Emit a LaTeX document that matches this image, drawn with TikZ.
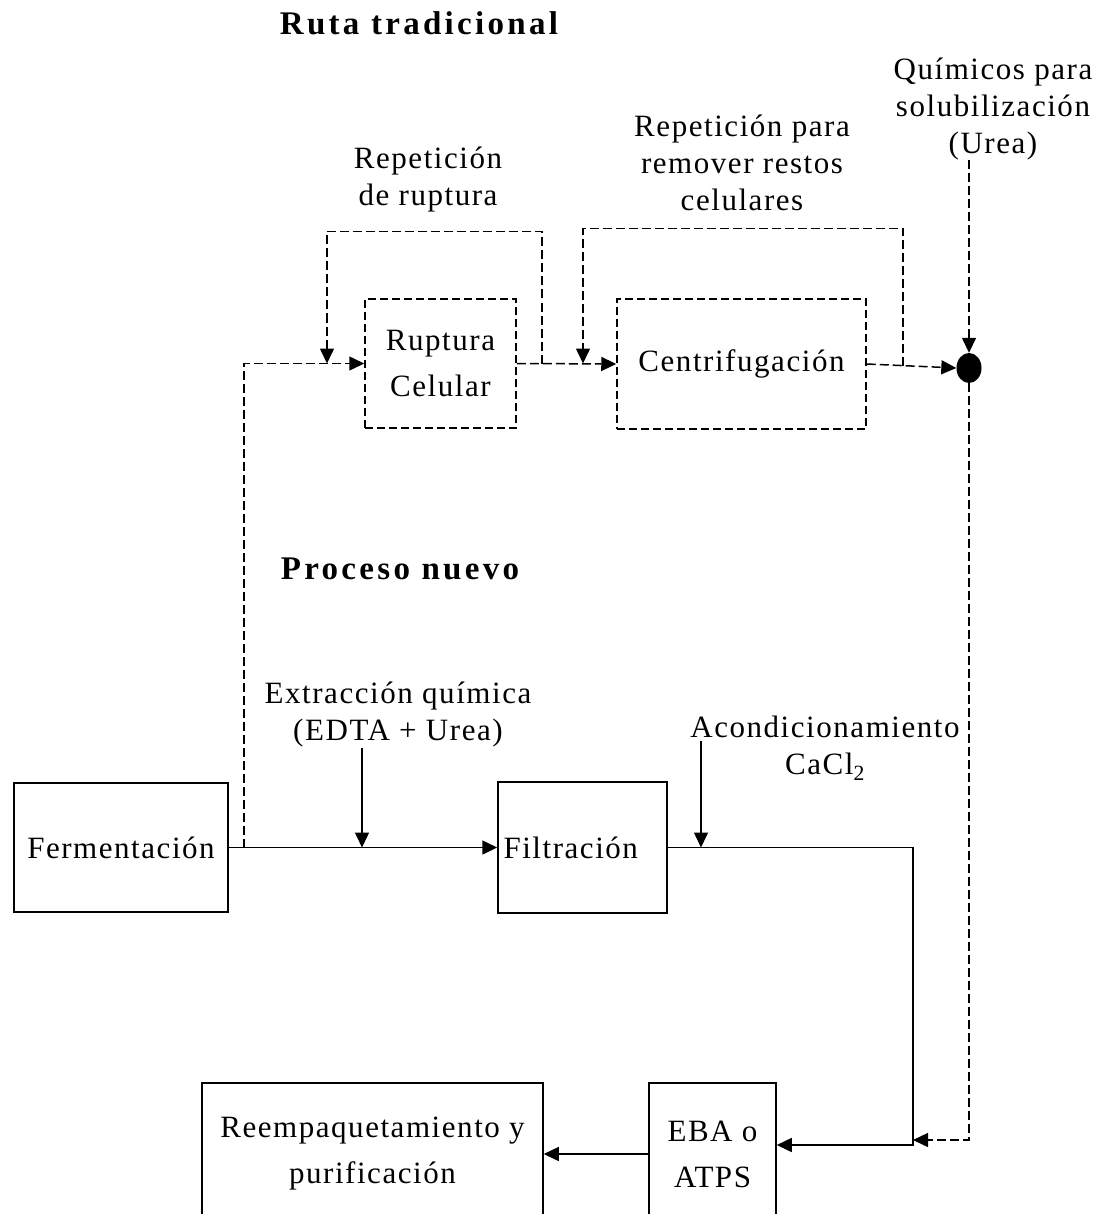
\documentclass[tikz,border=0pt]{standalone}
\usepackage{fontspec}
\setmainfont{Liberation Serif}
\newfontfamily\spacedfont[LetterSpace=5]{Liberation Serif}
\newfontfamily\headfont[LetterSpace=10]{Liberation Serif}
\usetikzlibrary{arrows.meta, shapes.geometric, calc}

\tikzset{
  procbox/.style={draw, line width=1.5pt, inner sep=0pt, align=center,
    font=\spacedfont\fontsize{31}{46}\selectfont},
  dashbox/.style={procbox, dash pattern=on 8pt off 4pt},
  note/.style={align=center, inner sep=0pt, font=\spacedfont\fontsize{31}{37}\selectfont},
  heading/.style={anchor=base, inner sep=0pt, font=\headfont\bfseries\fontsize{33}{38}\selectfont},
  flow/.style={line width=1.5pt, -{Triangle[length=15pt,width=14pt]}},
  dflow/.style={flow, dash pattern=on 9pt off 4pt},
}

\begin{document}
\begin{tikzpicture}[x=1pt, y=-1pt]
  \useasboundingbox (0,0) rectangle (1103,1214);
  \clip (0,0) rectangle (1103,1214);

  % titulos
  \node[heading] (titA) at (419,35) {Ruta tradicional};
  \node[heading] (titB) at (400,579) {Proceso nuevo};

  % ruta tradicional
  \node[dashbox, minimum width=151pt, minimum height=129pt] (rupt) at (440.5,363.5) {Ruptura\\Celular};
  \node[dashbox, minimum width=249pt, minimum height=130pt] (centri) at (741.5,364) {Centrifugación};
  \node[ellipse, fill=black, inner sep=0pt, minimum width=25pt, minimum height=30pt] (mix) at (969,368) {};
  \node[note] (rep1) at (428,180) {Repetición\\de ruptura};
  \node[note] (rep2) at (742,163) {Repetición para\\remover restos\\celulares};
  \node[note] (quim) at (993,109) {Químicos para\\solubilización\\(Urea)};

  % proceso nuevo
  \node[procbox, minimum width=214pt, minimum height=129pt] (ferm) at (121,847.5) {Fermentación};
  \node[procbox, minimum width=169pt, minimum height=131pt, text width=158pt, align=left] (filtra) at (582.5,847.5) {Filtración};
  \node[procbox, minimum width=127pt, minimum height=142pt] (eba) at (712.5,1154) {EBA o\\ATPS};
  \node[procbox, minimum width=341pt, minimum height=142pt] (reemp) at (372.5,1154) {Reempaquetamiento y\\purificación};
  \node[note] (extr) at (398,715) {Extracción química\\(EDTA + Urea)};
  \node[note] (acond) at (825,748) {Acondicionamiento\\CaCl\textsubscript{2}};

  \coordinate (split) at (244,847.5);
  \coordinate (eIn) at (362,847.5);
  \coordinate (aTop) at (701,741);
  \coordinate (r1a) at (327,363.5);
  \coordinate (r1b) at (542,363.5);
  \coordinate (r2a) at (583,363.5);
  \coordinate (r2b) at (903,366);
  \coordinate (bend) at (913,1145);
  \coordinate (join) at (913,1140);

  % flujo continuo
  \draw[flow] (ferm.east) -- (filtra.west);
  \draw[flow] (extr.south -| eIn) -- (eIn);
  \draw[flow] (aTop) -- (aTop |- filtra.east);
  \draw[flow] (filtra.east) -| (bend) -- (bend -| eba.east);
  \draw[flow] (eba.west) -- (reemp.east);

  % flujo discontinuo
  \draw[dflow] (split) |- (rupt.west);
  \draw[dflow] (rupt.east) -- (centri.west);
  \draw[dflow] (r1b) |- ([yshift=132pt]r1a) -- (r1a);
  \draw[dflow] (centri.east) -- (mix.west);
  \draw[dflow] (r2b) |- ([yshift=135pt]r2a) -- (r2a);
  \draw[dflow] (quim.south -| mix.north) -- (mix.north);
  \draw[dflow] (mix.south) |- (join);
\end{tikzpicture}
\end{document}
